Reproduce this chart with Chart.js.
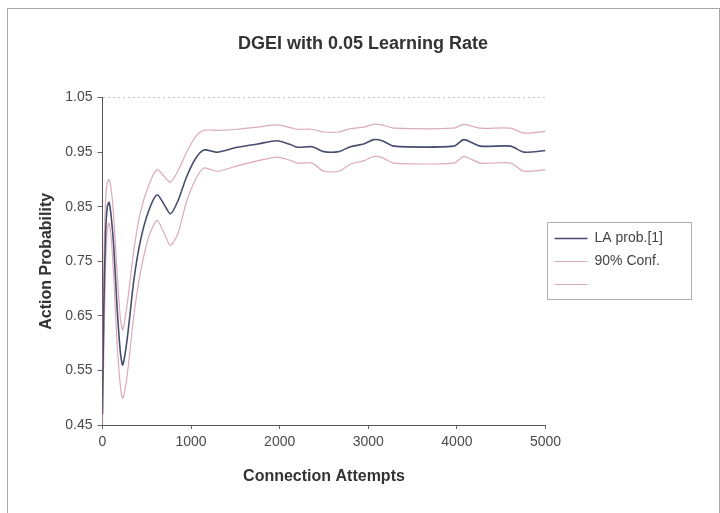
<!DOCTYPE html>
<html>
<head>
<meta charset="utf-8">
<title>DGEI with 0.05 Learning Rate</title>
<script src="https://cdn.jsdelivr.net/npm/chart.js@4.4.1/dist/chart.umd.min.js"></script>
<style>
  html, body { margin: 0; padding: 0; background: #fff; overflow: hidden; }
  #wrap { position: relative; width: 720px; height: 513px; }
  #frame { position: absolute; left: 7px; top: 8px; width: 711px; height: 600px; border: 1px solid #a8a8a8; }
  #chart { position: absolute; left: 0; top: 0; }
</style>
</head>
<body>
<div id="wrap">
  <div id="frame"></div>
  <canvas id="chart" width="720" height="513"></canvas>
</div>
<script>
// connection attempts where the curves were sampled
const attempts = [0, 15, 35, 55, 75, 100, 128, 165, 203, 229, 278, 354, 429, 523, 617, 700, 767, 850, 950, 1050,
  1144, 1294, 1520, 1750, 1972, 2122, 2197, 2367, 2498, 2667, 2799, 2949, 3062, 3156, 3288, 3965, 4078, 4266, 4605, 4755, 5000];

// probability of action [1]
const laProb = [0.47, 0.66, 0.80, 0.85, 0.858, 0.83, 0.776, 0.666, 0.582, 0.56, 0.606, 0.715, 0.788, 0.843, 0.872, 0.853, 0.837, 0.86, 0.905, 0.938,
  0.954, 0.950, 0.959, 0.965, 0.971, 0.964, 0.959, 0.960, 0.951, 0.951, 0.960, 0.965, 0.973, 0.971, 0.961, 0.961, 0.973, 0.961, 0.961, 0.950, 0.953];

// 90% confidence bounds
const confUpper = [0.55, 0.74, 0.86, 0.895, 0.90, 0.88, 0.83, 0.73, 0.645, 0.624, 0.67, 0.77, 0.84, 0.89, 0.918, 0.905, 0.895, 0.915, 0.95, 0.978,
  0.990, 0.990, 0.992, 0.996, 1.000, 0.995, 0.992, 0.992, 0.987, 0.987, 0.993, 0.996, 1.001, 1.000, 0.994, 0.994, 1.001, 0.994, 0.994, 0.985, 0.988];
const confLower = [0.45, 0.58, 0.74, 0.81, 0.82, 0.79, 0.72, 0.60, 0.52, 0.499, 0.54, 0.65, 0.73, 0.795, 0.825, 0.80, 0.779, 0.80, 0.86, 0.90,
  0.921, 0.915, 0.925, 0.934, 0.941, 0.935, 0.930, 0.930, 0.915, 0.915, 0.928, 0.934, 0.942, 0.940, 0.930, 0.930, 0.942, 0.930, 0.930, 0.915, 0.918];

const xTicks = [0, 1000, 2000, 3000, 4000, 5000];
const yTicks = [0.45, 0.55, 0.65, 0.75, 0.85, 0.95, 1.05];

const toPoints = (ys) => attempts.map((x, i) => ({ x: x, y: ys[i] }));

const FONT = "'Liberation Sans', Arial, sans-serif";
const DARK = "#464d6e";
const PINK = "#dcaabb";

// title centred on the whole frame, not between the paddings
const centerTitle = {
  id: "centerTitle",
  afterLayout(chart) {
    if (chart.titleBlock) {
      chart.titleBlock.left = 6;
      chart.titleBlock.right = chart.width;
    }
  },
};

// thin box around the legend entries only
const legendBox = {
  id: "legendBox",
  afterDraw(chart) {
    const boxes = chart.legend && chart.legend.legendHitBoxes;
    if (!boxes || !boxes.length) return;
    const first = boxes[0];
    const last = boxes[boxes.length - 1];
    const left = Math.round(first.left) - 8;
    const top = Math.round(first.top) - 10;
    const bottom = Math.round(last.top + last.height) + 7;
    const c = chart.ctx;
    c.save();
    c.strokeStyle = "#b0b0b0";
    c.lineWidth = 1;
    c.strokeRect(left + 0.5, top + 0.5, 144, bottom - top);
    c.restore();
  },
};

const ctx = document.getElementById("chart").getContext("2d");
new Chart(ctx, {
  type: "line",
  data: {
    datasets: [
      { label: "LA prob.[1]", data: toPoints(laProb), borderColor: DARK, borderWidth: 1.6 },
      { label: "90% Conf.", data: toPoints(confUpper), borderColor: PINK, borderWidth: 1.2 },
      { label: "", data: toPoints(confLower), borderColor: PINK, borderWidth: 1.2 },
    ],
  },
  options: {
    responsive: false,
    animation: false,
    parsing: false,
    elements: { point: { radius: 0 }, line: { tension: 0.25 } },
    layout: { padding: { left: 33, top: 33, right: 47, bottom: 23 } },
    plugins: {
      title: {
        display: true,
        text: "DGEI with 0.05 Learning Rate",
        color: "#333",
        font: { family: FONT, size: 18, weight: "bold" },
        padding: { top: 0, bottom: 43 },
      },
      legend: {
        position: "right",
        labels: {
          color: "#444",
          font: { family: FONT, size: 14 },
          usePointStyle: true,
          pointStyle: "line",
          pointStyleWidth: 33,
          boxHeight: 12,
          padding: 9,
        },
      },
      tooltip: { enabled: false },
    },
    scales: {
      x: {
        type: "linear",
        min: 0,
        max: 5000,
        afterBuildTicks: (axis) => { axis.ticks = xTicks.map((v) => ({ value: v })); },
        grid: { display: true, drawOnChartArea: false, tickColor: "#666", tickLength: 4 },
        border: { color: "#555", width: 1 },
        ticks: { color: "#4a4a4a", font: { family: FONT, size: 14 }, padding: 5, maxRotation: 0, callback: (v) => String(v) },
        title: {
          display: true,
          text: "Connection Attempts",
          color: "#333",
          font: { family: FONT, size: 16, weight: "bold" },
          padding: { top: 11 },
        },
      },
      y: {
        min: 0.45,
        max: 1.05,
        afterBuildTicks: (axis) => { axis.ticks = yTicks.map((v) => ({ value: v })); },
        grid: {
          color: (c) => (c.tick && c.tick.value >= 1.05 ? "#c4c4c4" : "rgba(0,0,0,0)"),
          tickColor: "#666",
          tickLength: 5,
        },
        border: { color: "#555", width: 1, dash: [2, 3] },
        ticks: {
          color: "#4a4a4a",
          font: { family: FONT, size: 14 },
          padding: 5,
          callback: (v) => v.toFixed(2),
        },
        title: {
          display: true,
          text: "Action Probability",
          color: "#333",
          font: { family: FONT, size: 16, weight: "bold" },
          padding: { bottom: 4 },
        },
      },
    },
  },
  plugins: [centerTitle, legendBox],
});
</script>
</body>
</html>
